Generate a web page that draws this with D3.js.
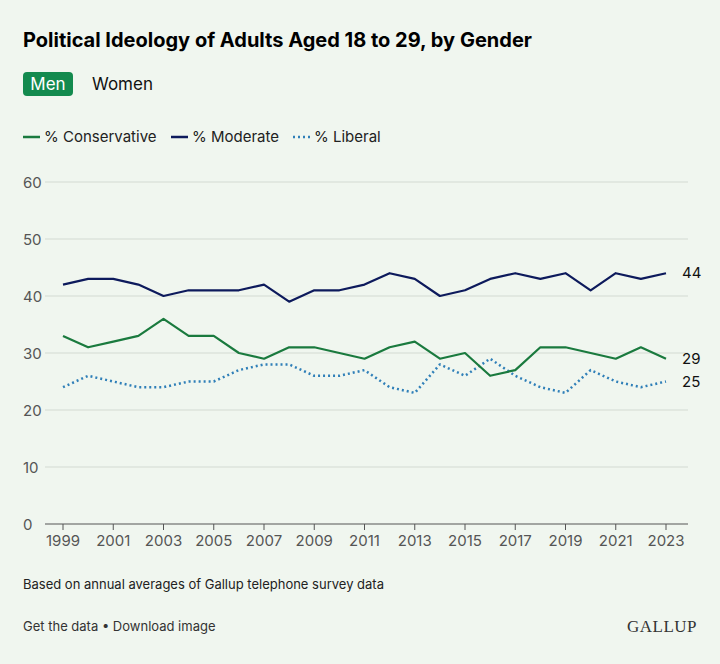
<!DOCTYPE html>
<html><head><meta charset="utf-8">
<script src="https://cdn.jsdelivr.net/npm/d3@7"></script>
<style>
body{margin:0;background:#f0f6ef;font-family:Inter,"Noto Sans",sans-serif;}
</style></head><body>
<script>
"use strict";
const years = d3.range(1999, 2024);
const moderate = [42,43,43,42,40,41,41,41,42,39,41,41,42,44,43,40,41,43,44,43,44,41,44,43,44];
const conservative = [33,31,32,33,36,33,33,30,29,31,31,30,29,31,32,29,30,26,27,31,31,30,29,31,29];
const liberal = [24,26,25,24,24,25,25,27,28,28,26,26,27,24,23,28,26,29,26,24,23,27,25,24,25];
const yTicks = [0,10,20,30,40,50,60];
const xTicks = d3.range(1999, 2024, 2);

const W = 720, H = 664;
const svg = d3.select("body").append("svg").attr("width", W).attr("height", H);
svg.append("rect").attr("width", W).attr("height", H).attr("fill", "#f0f6ef");

svg.append("text").attr("x", 23).attr("y", 47).attr("font-size", 20).attr("font-weight", 700)
	.attr("fill", "#000").text("Political Ideology of Adults Aged 18 to 29, by Gender");
svg.append("rect").attr("x", 23).attr("y", 72).attr("width", 50).attr("height", 24).attr("rx", 4).attr("fill", "#138a4e");
svg.append("text").attr("x", 48).attr("y", 90).attr("text-anchor", "middle").attr("font-size", 17).attr("fill", "#fff").text("Men");
svg.append("text").attr("x", 92).attr("y", 90).attr("font-size", 17).attr("fill", "#111").text("Women");

const series = [
	{name: "% Conservative", values: conservative, color: "#1a7a3e", dash: null},
	{name: "% Moderate", values: moderate, color: "#0d1a5c", dash: null},
	{name: "% Liberal", values: liberal, color: "#2f7fb8", dash: "2,3"}
];

//legend
let lx = 23;
const legendX = [23, 171, 293];
series.forEach(function(s, i)
{
	let g = svg.append("g").attr("transform", "translate(" + legendX[i] + ",137)");
	g.append("line").attr("x1", 0).attr("x2", 17).attr("y1", 0).attr("y2", 0)
		.attr("stroke", s.color).attr("stroke-width", 2.5).attr("stroke-dasharray", s.dash);
	g.append("text").attr("x", 21).attr("y", 5).attr("font-size", 15).attr("fill", "#222").text(s.name);
});

const x = d3.scaleLinear().domain([1999, 2023]).range([63, 666]);
const y = d3.scaleLinear().domain([0, 60]).range([524, 182]);

//grid
svg.append("g").selectAll("line").data(yTicks).join("line")
	.attr("x1", 45).attr("x2", 688).attr("y1", d => y(d)).attr("y2", d => y(d))
	.attr("stroke", d => d === 0 ? "#555" : "#d3dad2").attr("stroke-width", 1);
svg.append("g").selectAll("text").data(yTicks).join("text")
	.attr("x", 23).attr("y", d => y(d) + 6).attr("font-size", 15).attr("fill", "#555").text(d => d);
svg.append("g").selectAll("text").data(xTicks).join("text")
	.attr("x", d => x(d)).attr("y", 546).attr("text-anchor", "middle").attr("font-size", 15).attr("fill", "#555").text(d => d);
svg.append("g").selectAll("line").data(xTicks).join("line")
	.attr("x1", d => x(d)).attr("x2", d => x(d)).attr("y1", 524).attr("y2", 530).attr("stroke", "#555");

const line = d3.line().x((d, i) => x(years[i])).y(d => y(d));
series.slice().reverse().forEach(function(s)
{
	svg.append("path").attr("d", line(s.values)).attr("fill", "none")
		.attr("stroke", s.color).attr("stroke-width", s.dash ? 2.5 : 2.2)
		.attr("stroke-dasharray", s.dash).attr("stroke-linejoin", "round");
	let last = s.values[s.values.length - 1];
	svg.append("text").attr("x", 682).attr("y", y(last) + 5).attr("font-size", 15).attr("fill", "#111").text(last);
});

svg.append("text").attr("x", 23).attr("y", 589).attr("font-size", 13).attr("fill", "#222")
	.text("Based on annual averages of Gallup telephone survey data");
svg.append("text").attr("x", 23).attr("y", 631).attr("font-size", 13).attr("fill", "#333")
	.text("Get the data \u2022 Download image");
svg.append("text").attr("x", 697).attr("y", 632).attr("text-anchor", "end").attr("font-size", 17)
	.attr("font-family", "Liberation Serif, serif").attr("letter-spacing", 0.5).attr("fill", "#333").text("GALLUP");
</script>
</body></html>
